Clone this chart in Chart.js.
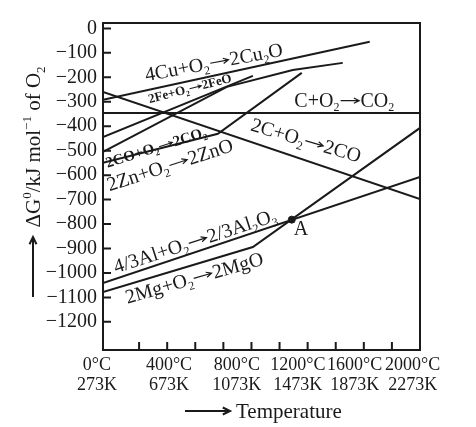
<!DOCTYPE html>
<html>
<head>
<meta charset="utf-8">
<script src="https://cdn.jsdelivr.net/npm/chart.js@4.4.1/dist/chart.umd.min.js"></script>
<style>
  html, body { margin: 0; padding: 0; background: #fff; }
</style>
</head>
<body>
<canvas id="chart" width="476" height="427"></canvas>
<script>
const serif = '"Liberation Serif", "DejaVu Serif", serif'
const ink = '#1a1a1a'

// temperature in °C, ΔG° in kJ per mol of O2
const cuT = [-57, 1842]
const cuG = [-292, -55]
const feT = [-57, 1010]
const feG = [-444, -194]
const coT = [-57, 825, 1294, 1650]
const coG = [-505, -239, -170, -141]
const znT = [-57, 761, 1358]
const znG = [-550, -431, -182]
const cT = [-57, 2200]
const cG = [-346, -346]
const c2T = [-57, 2200]
const c2G = [-260, -698]
const alT = [-57, 2200]
const alG = [-1041, -607]
const mgT = [-57, 1010, 2200]
const mgG = [-1078, -894, -407]
const aT = [1287]
const aG = [-782]

const yTicks = [0, -100, -200, -300, -400, -500, -600, -700, -800, -900, -1000, -1100, -1200]
const xTicks = [200, 400, 600, 800, 1000, 1200, 1400, 1600, 1800, 2000]
const xLabelT = [-100, 413, 896, 1330, 1735, 2148]
const xLabelC = ['0°C', '400°C', '800°C', '1200°C', '1600°C', '2000°C']
const xLabelK = ['273K', '673K', '1073K', '1473K', '1873K', '2273K']

// reaction labels: text, anchor (baseline centre) in data units, angle
const notes = [
  {text: '4Cu+O_2→2Cu_2O', t: 740, g: -164, angle: -10.6, size: 20},
  {text: '2Fe+O_2→2FeO', t: 569, g: -262, angle: -14.6, size: 13, bold: true},
  {text: 'C+O_2→CO_2', t: 1661, g: -320, angle: 0, size: 20},
  {text: '2C+O_2→2CO', t: 1376, g: -483, angle: 16.5, size: 20},
  {text: '2CO+O_2→2CO_2', t: 331, g: -505, angle: -17.6, size: 15, bold: true},
  {text: '2Zn+O_2→2ZnO', t: 434, g: -583, angle: -18, size: 20},
  {text: '4/3Al+O_2→2/3Al_2O_3', t: 612, g: -894, angle: -18, size: 20},
  {text: '2Mg+O_2→2MgO', t: 605, g: -1045, angle: -16, size: 20},
  {text: 'A', t: 1352, g: -845, angle: 0, size: 20}
]

function pairs(xs, ys) {
  return xs.map((x, i) => ({x, y: ys[i]}))
}

function line(xs, ys) {
  return {
    data: pairs(xs, ys),
    showLine: true,
    borderColor: ink,
    borderWidth: 2,
    pointRadius: 0
  }
}

function arrow(ctx, x1, y1, x2, y2, head) {
  const a = Math.atan2(y2 - y1, x2 - x1)
  ctx.beginPath()
  ctx.moveTo(x1, y1)
  ctx.lineTo(x2, y2)
  ctx.moveTo(x2 - head * Math.cos(a - 0.45), y2 - head * Math.sin(a - 0.45))
  ctx.lineTo(x2, y2)
  ctx.lineTo(x2 - head * Math.cos(a + 0.45), y2 - head * Math.sin(a + 0.45))
  ctx.stroke()
}

// '_' = subscript, '^' = superscript for the next char; '→' is drawn as a long arrow
function richText(ctx, str, px, py, size, angle, bold) {
  const parts = []
  for (let i = 0; i < str.length; i++) {
    const ch = str[i]
    if ((ch === '_' || ch === '^') && i + 1 < str.length) {
      parts.push({s: str[i + 1], k: ch})
      i++
    } else {
      parts.push({s: ch, k: ''})
    }
  }
  const font = k => (bold ? 'bold ' : '') + (k ? Math.round(size * 0.62) : size) + 'px ' + serif
  let total = 0
  parts.forEach(p => {
    ctx.font = font(p.k)
    p.w = p.s === '→' ? size * 1.05 : ctx.measureText(p.s).width
    total += p.w
  })
  ctx.save()
  ctx.translate(px, py)
  ctx.rotate(angle * Math.PI / 180)
  ctx.textAlign = 'left'
  ctx.textBaseline = 'alphabetic'
  ctx.fillStyle = ink
  ctx.strokeStyle = ink
  ctx.lineWidth = Math.max(1, size * 0.06)
  let cx = -total / 2
  parts.forEach(p => {
    if (p.s === '→') {
      const ay = -size * 0.3
      arrow(ctx, cx + size * 0.06, ay, cx + p.w - size * 0.06, ay, size * 0.3)
    } else {
      ctx.font = font(p.k)
      const dy = p.k === '_' ? size * 0.22 : p.k === '^' ? -size * 0.42 : 0
      ctx.fillText(p.s, cx, dy)
    }
    cx += p.w
  })
  ctx.restore()
}

const decor = {
  id: 'decor',
  afterDatasetsDraw(chart) {
    const {ctx, chartArea: a, scales: {x, y}} = chart
    ctx.save()
    ctx.strokeStyle = ink
    ctx.fillStyle = ink
    ctx.lineWidth = 2
    ctx.strokeRect(a.left, a.top, a.right - a.left, a.bottom - a.top)

    // tick marks point into the plot
    ctx.beginPath()
    y.ticks.forEach(t => {
      const py = y.getPixelForValue(t.value)
      ctx.moveTo(a.left, py)
      ctx.lineTo(a.left + 8, py)
    })
    x.ticks.forEach(t => {
      const px = x.getPixelForValue(t.value)
      ctx.moveTo(px, a.bottom)
      ctx.lineTo(px, a.bottom - 8)
    })
    ctx.stroke()

    ctx.font = '18px ' + serif
    ctx.textAlign = 'center'
    ctx.textBaseline = 'alphabetic'
    xLabelT.forEach((t, i) => {
      const px = x.getPixelForValue(t)
      ctx.fillText(xLabelC[i], px, a.bottom + 20)
      ctx.fillText(xLabelK[i], px, a.bottom + 40)
    })

    notes.forEach(n => {
      richText(ctx, n.text, x.getPixelForValue(n.t), y.getPixelForValue(n.g), n.size, n.angle, n.bold)
    })

    // axis titles
    ctx.lineWidth = 2
    arrow(ctx, 185, 411, 230, 411, 8)
    ctx.font = '21px ' + serif
    ctx.textAlign = 'left'
    ctx.fillText('Temperature', 236, 418)

    arrow(ctx, 33, 297, 33, 237, 8)
    richText(ctx, 'ΔG^0/kJ mol^−^1 of O_2', 40, 147, 21, -90)
    ctx.restore()
  }
}

new Chart(document.getElementById('chart'), {
  type: 'scatter',
  data: {
    datasets: [
      line(cuT, cuG),
      line(feT, feG),
      line(coT, coG),
      line(znT, znG),
      line(cT, cG),
      line(c2T, c2G),
      line(alT, alG),
      line(mgT, mgG),
      {
        data: pairs(aT, aG),
        pointRadius: 3.5,
        pointBackgroundColor: ink,
        pointBorderColor: ink
      }
    ]
  },
  options: {
    responsive: false,
    animation: false,
    layout: {padding: {top: 23, right: 56, left: 0, bottom: 0}},
    plugins: {legend: {display: false}, tooltip: {enabled: false}},
    scales: {
      x: {
        type: 'linear',
        min: -57,
        max: 2200,
        grid: {display: false},
        border: {display: false},
        ticks: {display: false},
        afterBuildTicks: s => { s.ticks = xTicks.map(v => ({value: v})) },
        afterFit: s => { s.height = 77 }
      },
      y: {
        min: -1315,
        max: 22,
        grid: {display: false, drawTicks: false},
        border: {display: false},
        ticks: {
          color: ink,
          padding: 6,
          font: {family: serif, size: 20},
          callback: v => v < 0 ? '−' + Math.abs(v) : String(v)
        },
        afterBuildTicks: s => { s.ticks = yTicks.map(v => ({value: v})) },
        afterFit: s => { s.width = 103 }
      }
    }
  },
  plugins: [decor]
})
</script>
</body>
</html>
